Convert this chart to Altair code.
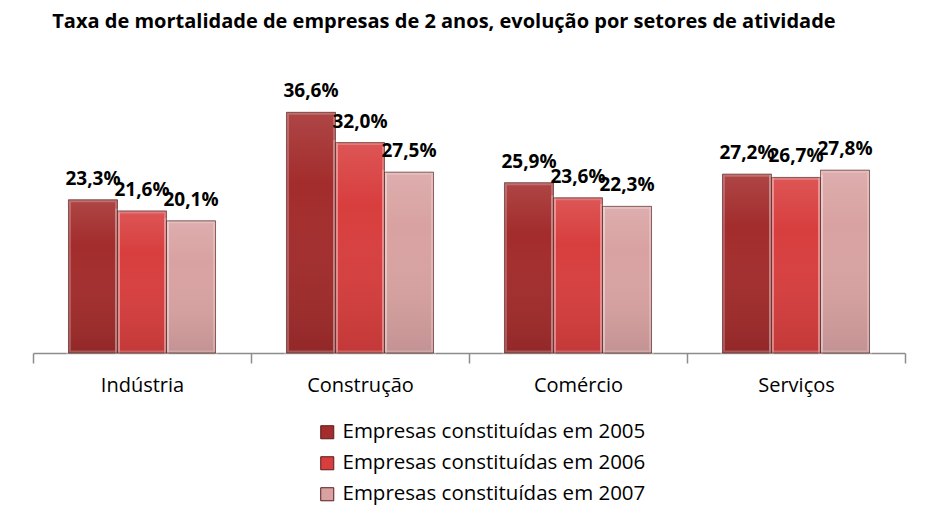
import altair as alt
import pandas as pd

sectors = ["Indústria", "Construção", "Comércio", "Serviços"]
series = ["Empresas constituídas em 2005", "Empresas constituídas em 2006", "Empresas constituídas em 2007"]
v2005 = [23.3, 36.6, 25.9, 27.2]
v2006 = [21.6, 32.0, 23.6, 26.7]
v2007 = [20.1, 27.5, 22.3, 27.8]
colors = ["#A32C2C", "#D83E3E", "#D9A2A2"]

rows = []
for s, vals in zip(series, [v2005, v2006, v2007]):
    for sec, v in zip(sectors, vals):
        rows.append({"setor": sec, "serie": s, "valor": v,
                     "rotulo": f"{v:.1f}".replace(".", ",") + "%"})
df = pd.DataFrame(rows)

FONT = "Open Sans"
x = alt.X("setor:N", sort=sectors, title=None,
          scale=alt.Scale(paddingInner=0, paddingOuter=0),
          axis=alt.Axis(labelAngle=0, labelFontSize=20, labelColor="#000000", labelFont=FONT,
                        domainColor="#8c8c8c", tickColor="#8c8c8c", tickSize=10, tickBand="extent",
                        labelPadding=12, domainWidth=1.5, tickWidth=1.5))
xo = alt.XOffset("serie:N", sort=series, scale=alt.Scale(paddingInner=0, paddingOuter=0.724))
y = alt.Y("valor:Q", scale=alt.Scale(domain=[0, 40]), axis=None)

base = alt.Chart(df)
bars = base.mark_bar(stroke="#5a1a1a", strokeOpacity=0.45, strokeWidth=1).encode(
    x=x, xOffset=xo, y=y,
    color=alt.Color("serie:N", sort=series, scale=alt.Scale(domain=series, range=colors),
                    legend=alt.Legend(title=None, orient="none", legendX=284, legendY=332,
                                      symbolType="square", symbolSize=170, labelFontSize=20.5,
                                      labelFont=FONT, labelColor="#000000", rowPadding=10,
                                      labelLimit=0, labelOffset=5,
                                      symbolStrokeColor="#5a1a1a", symbolStrokeWidth=1,
                                      symbolOpacity=1)))
shade = base.mark_bar(
    fill=alt.Gradient(gradient="linear", x1=0, y1=0, x2=0, y2=1,
                      stops=[alt.GradientStop(color="rgba(255,255,255,0.12)", offset=0),
                             alt.GradientStop(color="rgba(255,255,255,0.0)", offset=0.3),
                             alt.GradientStop(color="rgba(0,0,0,0.10)", offset=1)])
).encode(x=x, xOffset=xo, y=y)
bevel = base.mark_bar(fillOpacity=0, stroke="#ffffff", strokeOpacity=0.22, strokeWidth=5).encode(
    x=x, xOffset=xo, y=y)
edge = base.mark_bar(fillOpacity=0, stroke="#4a1414", strokeOpacity=0.45, strokeWidth=1).encode(
    x=x, xOffset=xo, y=y)
labels = base.mark_text(fontSize=19, fontWeight="bold", font=FONT, dy=-21, color="#000000").encode(
    x=x, xOffset=xo, y=y, text="rotulo:N")

chart = alt.layer(bars, shade, bevel, edge, labels).properties(
    width=872, height=263,
    autosize=alt.AutoSizeParams(type="none"),
    padding={"left": 25, "top": 82, "right": 20, "bottom": 160},
    title=alt.Title("Taxa de mortalidade de empresas de 2 anos, evolução por setores de atividade",
                    anchor="start", dx=20, offset=50, fontSize=20, font=FONT, fontWeight="bold",
                    color="#000000", limit=0),
).configure_view(stroke=None)

chart.save("out.html", embed_options={"renderer": "svg", "actions": False})
